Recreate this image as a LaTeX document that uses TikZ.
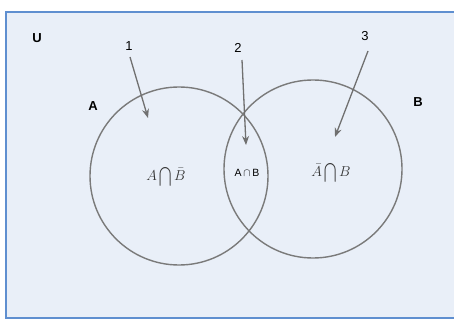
\documentclass[tikz,border=0pt]{standalone}
\usepackage{fontspec}
\setsansfont{Liberation Sans}
\usetikzlibrary{arrows.meta}
\definecolor{bgfill}{HTML}{E9EFF8}
\definecolor{frame}{HTML}{5F8FD0}
\definecolor{ring}{HTML}{7A7A7A}
\definecolor{arr}{HTML}{707070}
\newcommand{\tallcap}{\mathop{\vcenter{\hbox{\scalebox{1.1}[1.35]{$\displaystyle\bigcap$}}}}}
\tikzset{
  ringstyle/.style={draw=ring, line width=1.4pt},
  pointer/.style={draw=arr, line width=1.3pt, -{Stealth[length=9pt,width=7pt]}},
  lab/.style={font=\sffamily\bfseries\fontsize{13}{15}\selectfont, inner sep=0pt},
  num/.style={font=\sffamily\fontsize{13}{15}\selectfont, inner sep=0pt},
  mathlab/.style={font=\fontsize{14.5}{17}\selectfont, inner sep=0pt, text=black!80}
}
\begin{document}
\begin{tikzpicture}[x=1pt,y=-1pt]
\useasboundingbox (0,0) rectangle (454,320);
\fill[white] (0,0) rectangle (454,320);
\path[fill=bgfill, draw=frame, line width=1.2pt] (6,12) rectangle (458,318);
\node[ringstyle, circle, minimum size=178pt, inner sep=0pt] (ca) at (179,176) {};
\node[ringstyle, circle, minimum size=178pt, inner sep=0pt] (cb) at (313,169) {};
\node[lab] (u) at (37,38) {U};
\node[lab] (la) at (93,106) {A};
\node[lab] (lb) at (418,102) {B};
\node[num] (n1) at (129,46) {1};
\node[num] (n2) at (238,48) {2};
\node[num] (n3) at (365,36) {3};
\coordinate (t1) at (148,118);
\coordinate (t2) at (246,145);
\coordinate (t3) at (335,137);
\draw[pointer] (130,57) -- (t1);
\draw[pointer] (242,60) -- (t2);
\draw[pointer] (368,51) -- (t3);
\node[mathlab] (m1) at (166,177) {$A\tallcap\bar B$};
\node[num, font=\sffamily\fontsize{10.5}{12}\selectfont] (m2) at (247,173) {A\,$\cap$\,B};
\node[mathlab] (m3) at (331,173) {$\bar A\tallcap B$};
\end{tikzpicture}
\end{document}
